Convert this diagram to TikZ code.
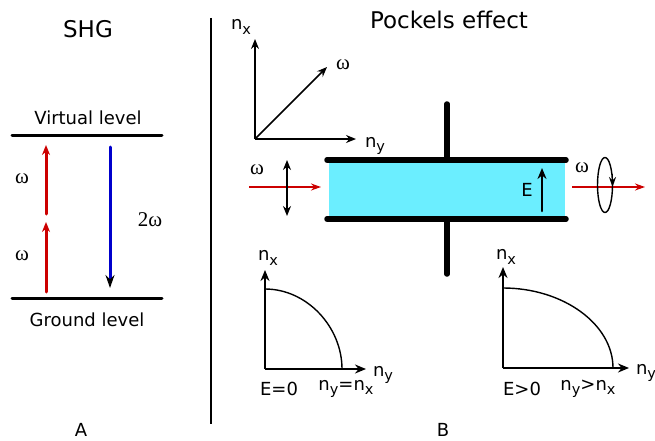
\documentclass[tikz,border=0pt]{standalone}
\usepackage{fontspec}
\setmainfont{DejaVu Sans}
\newfontfamily\omegafont{Liberation Serif}
\usepackage{xcolor}
\usetikzlibrary{arrows.meta,positioning,calc,shapes.geometric}
\definecolor{beamred}{HTML}{CC0000}
\definecolor{emitblue}{HTML}{0000CC}
\definecolor{crystal}{HTML}{6BEEFF}
\newcommand{\lowtxt}[1]{\raisebox{-0.45ex}{\fontsize{14.5}{15}\selectfont #1}}
\newcommand{\nx}{n\lowtxt{x}}
\newcommand{\ny}{n\lowtxt{y}}
\newcommand{\om}{{\omegafont ω}}

\begin{document}
\begin{tikzpicture}[
  x=1pt,y=-1pt,
  title/.style={font=\fontsize{23}{25}\selectfont,inner sep=0pt},
  lab/.style={font=\fontsize{18}{20}\selectfont,inner sep=0pt},
  greek/.style={font=\fontsize{21}{23}\selectfont,inner sep=0pt},
  level/.style={line width=3pt,line cap=round},
  plate/.style={line width=5.5pt,line cap=round},
  pump/.style={-{Stealth[length=10pt,width=8pt]},line width=3pt,color=beamred,line cap=round},
  beam/.style={-{Stealth[length=10pt,width=7pt]},line width=1.5pt,color=beamred},
  emit/.style={line width=3pt,color=emitblue,line cap=round},
  axis/.style={-{Stealth[length=10pt,width=8pt]},line width=1.5pt},
  plotaxis/.style={-{Stealth[length=11pt,width=9pt]},line width=2pt},
  curve/.style={line width=1.4pt},
]
  \useasboundingbox (0,0) rectangle (655,441);

  % SHG panel
  \node[title] (shg) at (88,29) {SHG};
  \node[lab] (virt) at (88,118) {Virtual level};
  \node[lab] (ground) at (87,320) {Ground level};
  \node[lab] (pa) at (81,430) {A};
  \coordinate (v0) at (12,135);
  \coordinate (v1) at (162,135);
  \coordinate (g0) at (12,298);
  \coordinate (g1) at (162,298);
  \draw[level] (v0) -- (v1);
  \draw[level] (g0) -- (g1);

  \coordinate (p0) at (46,292);
  \coordinate (p1) at (46,222);
  \coordinate (p2) at (46,214);
  \coordinate (p3) at (46,145);
  \draw[pump] (p0) -- (p1);
  \draw[pump] (p2) -- (p3);
  \node[greek] (w1) at (22,179) {\om};
  \node[greek] (w2) at (22,256) {\om};

  \coordinate (e0) at (110,147);
  \coordinate (e1) at (110,279);
  \coordinate (e2) at (110,288);
  \draw[emit] (e0) -- (e1);
  \draw[-{Stealth[length=13pt,width=9pt]},line width=2pt] (e1) -- (e2);
  \node[greek] (w3) at (150,220) {{\omegafont 2ω}};

  % divider
  \coordinate (d0) at (211,18);
  \coordinate (d1) at (211,424);
  \draw[line width=1.2pt] (d0) -- (d1);

  % Pockels panel
  \node[title] (pock) at (449,20) {Pockels effect};
  \node[lab] (pb) at (443,430) {B};

  % axes
  \coordinate (o) at (255,139);
  \coordinate (ox) at (255,39);
  \coordinate (oy) at (356,139);
  \coordinate (od) at (327,67);
  \draw[axis] (o) -- (ox);
  \draw[axis] (o) -- (oy);
  \draw[axis] (o) -- (od);
  \node[lab] (axx) at (241,27) {\nx};
  \node[lab] (axy) at (375,146) {\ny};
  \node[greek] (axw) at (343,65) {\om};

  % crystal
  \node[draw=none,fill=crystal,minimum width=236pt,minimum height=59pt,inner sep=0pt] (cell) at (447,189.5) {};
  \coordinate (t0) at (327,160);
  \coordinate (t1) at (566,160);
  \coordinate (b0) at (327,219);
  \coordinate (b1) at (566,219);
  \coordinate (wt) at (447,104);
  \coordinate (wb) at (447,274);
  \coordinate (wtb) at (447,160);
  \coordinate (wbt) at (447,219);
  \draw[plate] (t0) -- (t1);
  \draw[plate] (b0) -- (b1);
  \draw[plate] (wt) -- (wtb);
  \draw[plate] (wbt) -- (wb);

  \coordinate (ea) at (542,211);
  \coordinate (eb) at (542,168);
  \draw[-{Stealth[length=11pt,width=9pt]},line width=2.6pt,line cap=round] (ea) -- (eb);
  \node[lab] (efield) at (527,190) {E};

  % beams
  \coordinate (in0) at (249,187);
  \coordinate (in1) at (321,187);
  \coordinate (out0) at (572,187);
  \coordinate (out1) at (645,187);
  \draw[beam] (in0) -- (in1);
  \draw[beam] (out0) -- (out1);
  \node[greek] (win) at (257,170) {\om};
  \node[greek] (wout) at (582,168) {\om};
  \coordinate (pol0) at (287,160);
  \coordinate (pol1) at (287,216);
  \draw[{Stealth[length=10pt,width=8pt]}-{Stealth[length=10pt,width=8pt]},line width=1.5pt] (pol0) -- (pol1);
  \node[draw,line width=1.4pt,ellipse,minimum width=15pt,minimum height=55pt,inner sep=0pt] (circ) at (605,185) {};
  \coordinate (ca) at (612.5,174);
  \coordinate (cb) at (612.5,187);
  \draw[-{Stealth[length=10pt,width=7pt]},line width=1.4pt] (ca) -- (cb);

  % E=0 plot
  \coordinate (a0) at (265,369);
  \coordinate (ax) at (265,270);
  \coordinate (ay) at (366,369);
  \coordinate (as) at (265,289);
  \coordinate (ae) at (342,369);
  \draw[plotaxis] (a0) -- (ax);
  \draw[plotaxis] (a0) -- (ay);
  \draw[curve] (as) .. controls (307,289) and (342,327) .. (ae);
  \node[lab] (anx) at (268,258) {\nx};
  \node[lab] (any) at (383,375) {\ny};
  \node[lab] (ae0) at (279,389) {E=0};
  \node[lab] (aeq) at (346,389) {\ny=\nx};

  % E>0 plot
  \coordinate (c0) at (503,368);
  \coordinate (cx) at (503,267);
  \coordinate (cy) at (629,368);
  \coordinate (cs) at (503,288);
  \coordinate (ce) at (613,368);
  \draw[plotaxis] (c0) -- (cx);
  \draw[plotaxis] (c0) -- (cy);
  \draw[curve] (cs) .. controls (563,288) and (613,324) .. (ce);
  \node[lab] (cnx) at (506,257) {\nx};
  \node[lab] (cny) at (646,373) {\ny};
  \node[lab] (ce0) at (522,389) {E>0};
  \node[lab] (cgt) at (588,389) {\ny>\nx};
\end{tikzpicture}
\end{document}
